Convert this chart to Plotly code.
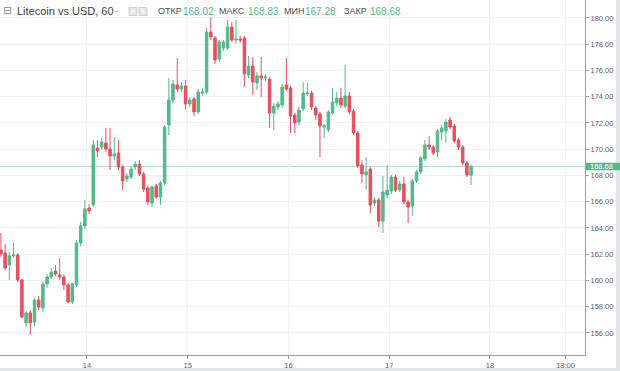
import plotly.graph_objects as go
import pandas as pd

# ---- data ----
opens = [162.32, 162.09, 161.18, 161.87, 161.94, 160.04, 156.76, 157.52, 156.84, 158.51,
         157.90, 159.73, 160.27, 160.72, 160.42, 160.27, 159.66, 158.36, 159.66, 162.86,
         164.15, 165.52, 165.75, 170.09, 170.17, 170.47, 170.02, 169.48, 169.71, 168.65,
         167.73, 167.88, 168.65, 168.87, 168.11, 167.05, 165.90, 167.20, 166.36, 167.43,
         171.85, 173.75, 174.89, 174.59, 174.82, 173.45, 173.83, 172.84, 174.28, 174.36,
         178.93, 178.47, 176.87, 177.71, 177.71, 179.31, 178.32, 178.40, 178.47, 175.66,
         176.34, 175.05, 175.58, 175.43, 175.35, 172.76, 173.22, 173.37, 174.89, 174.67,
         172.61, 172.07, 173.07, 174.21, 174.28, 173.14, 172.68, 171.69, 171.47, 172.76,
         173.52, 173.90, 173.29, 174.06, 172.91, 171.24, 168.80, 168.04, 168.49, 165.90,
         166.13, 164.53, 166.51, 166.82, 167.88, 166.89, 167.35, 165.98, 165.67, 167.58,
         168.27, 169.26, 170.32, 170.17, 169.79, 171.31, 171.39, 172.23, 171.77, 170.70,
         170.17, 168.95, 168.02]
highs = [163.62, 162.78, 162.17, 162.86, 162.09, 160.11, 157.67, 157.75, 158.67, 158.82,
         159.88, 160.49, 160.95, 161.18, 161.71, 160.49, 159.81, 159.81, 163.08, 164.46,
         166.13, 165.83, 170.70, 170.70, 170.86, 171.62, 171.62, 170.93, 170.70, 168.80,
         168.19, 168.65, 169.10, 169.18, 168.27, 167.20, 167.27, 167.35, 167.58, 171.85,
         175.43, 175.27, 176.95, 175.12, 175.27, 173.98, 173.98, 174.59, 174.67, 179.24,
         180.07, 178.63, 178.32, 178.32, 179.85, 179.69, 179.85, 178.63, 178.63, 177.10,
         177.03, 175.88, 177.03, 175.73, 175.50, 173.52, 173.67, 174.97, 176.95, 174.82,
         172.76, 173.22, 175.12, 175.05, 174.44, 173.29, 172.84, 171.92, 172.99, 174.67,
         174.36, 174.67, 176.42, 174.36, 173.07, 171.39, 169.18, 169.41, 168.65, 166.36,
         166.28, 167.96, 168.80, 168.04, 168.04, 167.58, 167.88, 166.13, 167.73, 168.42,
         169.48, 170.70, 171.01, 170.32, 171.54, 171.85, 172.30, 172.46, 171.92, 170.86,
         170.32, 169.10, 168.83]
lows = [161.79, 160.80, 160.04, 161.71, 159.88, 157.14, 156.46, 155.85, 156.53, 157.75,
        157.60, 159.43, 160.11, 160.34, 160.04, 159.28, 158.28, 158.21, 159.50, 162.63,
        163.92, 165.07, 165.60, 169.41, 170.00, 169.79, 168.42, 169.18, 168.42, 166.89,
        167.50, 167.73, 168.42, 167.96, 166.74, 165.75, 165.60, 166.21, 165.75, 167.27,
        171.08, 173.45, 174.36, 174.36, 172.99, 173.22, 172.53, 172.68, 174.06, 174.21,
        178.32, 176.49, 176.65, 177.48, 177.56, 178.17, 178.02, 178.10, 174.74, 175.43,
        174.13, 174.51, 173.98, 175.20, 171.62, 171.47, 172.99, 173.14, 174.44, 171.24,
        171.24, 171.85, 172.91, 174.06, 172.99, 172.23, 169.41, 170.86, 171.31, 172.61,
        173.29, 173.14, 173.14, 172.68, 171.08, 168.57, 167.43, 166.89, 165.14, 165.67,
        164.07, 163.62, 166.28, 166.59, 166.74, 166.74, 165.83, 164.38, 164.91, 167.43,
        168.11, 169.10, 169.94, 169.56, 169.41, 170.70, 170.48, 171.54, 170.48, 169.94,
        168.80, 167.88, 167.28]
closes = [162.02, 160.95, 161.87, 161.94, 160.04, 157.22, 157.52, 156.76, 158.51, 157.98,
          159.73, 160.27, 160.65, 160.49, 160.27, 159.66, 158.36, 159.73, 162.86, 164.15,
          165.45, 165.29, 170.32, 169.87, 170.55, 170.02, 169.48, 169.64, 168.65, 167.58,
          167.96, 168.49, 168.87, 168.11, 166.97, 165.98, 167.12, 166.36, 167.43, 171.69,
          173.75, 174.97, 174.59, 174.82, 173.45, 173.75, 172.84, 174.36, 174.36, 178.93,
          178.55, 176.80, 178.17, 178.17, 179.31, 178.32, 178.40, 178.32, 175.73, 176.34,
          175.12, 175.58, 175.43, 175.50, 172.76, 173.29, 173.45, 174.74, 174.59, 172.53,
          172.00, 172.99, 174.28, 174.28, 173.22, 172.61, 171.77, 171.77, 172.84, 173.60,
          173.90, 173.37, 174.06, 172.84, 171.24, 168.72, 168.11, 168.27, 165.75, 166.13,
          164.53, 166.74, 166.89, 167.88, 166.89, 167.35, 165.98, 165.60, 167.58, 168.27,
          169.33, 170.32, 170.17, 169.71, 171.39, 171.62, 172.07, 171.69, 170.63, 170.17,
          168.95, 168.04, 168.68]

times = pd.date_range("2018-05-13 03:30", periods=len(opens), freq="h")

tick_vals = ["2018-05-14", "2018-05-15", "2018-05-16", "2018-05-17", "2018-05-18", "2018-05-18 18:00"]
tick_text = ["14", "15", "16", "17", "18", "18:00"]

title_text = "Litecoin vs USD, 60"
ohlc_labels = ["ОТКР", "МАКС", "МИН", "ЗАКР"]
ohlc_values = ["168.02", "168.83", "167.28", "168.68"]
last_price = 168.68

GREEN = "#53b987"
RED = "#eb4d5c"
GRID = "#f0f2f5"
AXIS = "#9b9ea6"
LABEL = "#5d606b"

PW, PH = 585.0, 355.0  # plot area size in px


def px(xp):
    return xp / PW


def py(yp):
    return 1 - yp / PH


fig = go.Figure()
fig.add_trace(go.Candlestick(
    x=times, open=opens, high=highs, low=lows, close=closes,
    increasing=dict(line=dict(color=GREEN, width=1), fillcolor=GREEN),
    decreasing=dict(line=dict(color=RED, width=1), fillcolor=RED),
    whiskerwidth=0, showlegend=False, hoverinfo="none",
))

shapes = []
# last price line
shapes.append(dict(type="line", xref="paper", yref="y", x0=0, x1=1, y0=last_price, y1=last_price,
                   line=dict(color="rgba(83,185,135,0.45)", width=1), layer="below"))
# grey page bands (right and bottom)
shapes.append(dict(type="rect", xref="paper", yref="paper", x0=px(616), x1=px(620), y0=py(371), y1=py(0),
                   fillcolor="#e3e5ea", line=dict(width=0), layer="above"))
shapes.append(dict(type="rect", xref="paper", yref="paper", x0=px(0), x1=px(620), y0=py(371), y1=py(368),
                   fillcolor="#e3e5ea", line=dict(width=0), layer="above"))
# last price label box
shapes.append(dict(type="rect", xref="paper", yref="y", x0=px(585), x1=px(620),
                   y0=last_price - 0.29, y1=last_price + 0.29,
                   fillcolor=GREEN, line=dict(width=0), layer="above"))
# header icon boxes
for x0 in (129, 139):
    shapes.append(dict(type="rect", xref="paper", yref="paper", x0=px(x0), x1=px(x0 + 8),
                       y0=py(15.5), y1=py(7.5), fillcolor="#e6e6e6",
                       line=dict(color="#cfcfcf", width=1), layer="above"))
    shapes.append(dict(type="rect", xref="paper", yref="paper", x0=px(x0 + 2.5), x1=px(x0 + 5.5),
                       y0=py(13), y1=py(10), fillcolor="#f7f7f7",
                       line=dict(width=0), layer="above"))

annotations = []
FONT = "Liberation Sans, Arial, sans-serif"
annotations.append(dict(text="⊟", xref="paper", yref="paper", x=px(1), y=py(11), xanchor="left",
                        yanchor="middle", showarrow=False, font=dict(family="DejaVu Sans", size=11, color="#8a8d94")))
annotations.append(dict(text=title_text, xref="paper", yref="paper", x=px(15), y=py(11.5), xanchor="left",
                        yanchor="middle", showarrow=False, font=dict(family=FONT, size=11, color="#3b3e45")))
annotations.append(dict(text="-", xref="paper", yref="paper", x=px(113), y=py(11), xanchor="left",
                        yanchor="middle", showarrow=False, font=dict(family=FONT, size=10, color="#a0a3aa")))
lab_x = [156, 217, 282, 342]
val_x = [181, 246, 303, 368]
for lx, vx, lab, val in zip(lab_x, val_x, ohlc_labels, ohlc_values):
    annotations.append(dict(text=lab, xref="paper", yref="paper", x=px(lx), y=py(11.5), xanchor="left",
                            yanchor="middle", showarrow=False, font=dict(family=FONT, size=9, color="#4a4d55")))
    annotations.append(dict(text=val, xref="paper", yref="paper", x=px(vx), y=py(11.5), xanchor="left",
                            yanchor="middle", showarrow=False, font=dict(family=FONT, size=10, color=GREEN)))
annotations.append(dict(text=f"{last_price:.2f}", xref="paper", yref="y", x=px(601), y=last_price,
                        xanchor="center", yanchor="middle", showarrow=False,
                        font=dict(family=FONT, size=7.5, color="white")))

fig.update_layout(
    width=620, height=371,
    margin=dict(l=0, r=35, t=0, b=16, pad=0),
    paper_bgcolor="white", plot_bgcolor="white",
    boxgap=0.15,
    shapes=shapes, annotations=annotations,
    xaxis=dict(
        type="date",
        range=["2018-05-13 03:17", "2018-05-18 22:38"],
        tickvals=tick_vals, ticktext=tick_text,
        showgrid=True, gridcolor=GRID, gridwidth=1,
        showline=True, linecolor=AXIS, linewidth=1,
        ticks="outside", ticklen=3, tickcolor=AXIS,
        tickfont=dict(family=FONT, size=7.5, color=LABEL),
        rangeslider=dict(visible=False), zeroline=False, fixedrange=True,
    ),
    yaxis=dict(
        side="right",
        range=[154.32, 181.37],
        tick0=156, dtick=2, tickformat=".2f",
        showgrid=True, gridcolor=GRID, gridwidth=1,
        showline=True, linecolor=AXIS, linewidth=1,
        ticks="outside", ticklen=3, tickcolor=AXIS,
        tickfont=dict(family=FONT, size=7.5, color=LABEL),
        zeroline=False, fixedrange=True,
    ),
    hovermode=False,
)

fig.write_html("out.html", config={"displayModeBar": False},
               post_script="document.body.style.margin='0';document.body.style.padding='0';")
